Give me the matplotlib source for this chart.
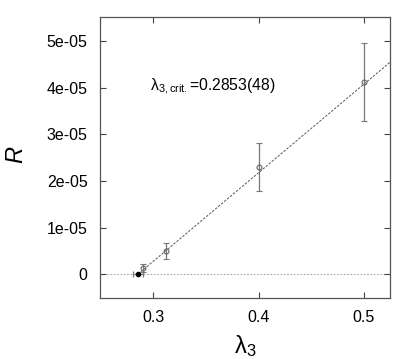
import matplotlib
matplotlib.use("Agg")
import matplotlib.pyplot as plt
import numpy as np

plt.rcParams['font.family'] = ['Liberation Sans', 'DejaVu Sans']
plt.rcParams['mathtext.fontset'] = 'custom'
plt.rcParams['mathtext.rm'] = 'Liberation Sans'
plt.rcParams['mathtext.it'] = 'Liberation Sans:italic'

# data
lam = [0.29, 0.3125, 0.4, 0.5]
R = [0.13e-5, 0.50e-5, 2.30e-5, 4.12e-5]
R_err = [0.08e-5, 0.18e-5, 0.52e-5, 0.83e-5]
lam_crit = 0.2853
lam_crit_err = 0.0048
fit_slope = 1.897e-4
xticks = [0.3, 0.4, 0.5]
yticks = [0, 1e-5, 2e-5, 3e-5, 4e-5, 5e-5]
ytick_labels = ['0', '1e-05', '2e-05', '3e-05', '4e-05', '5e-05']

fig = plt.figure(figsize=(4.15, 3.59), dpi=100)
ax = fig.add_axes([100/415, 1-298/359, 290/415, 281/359])

xmin, xmax = 0.2494, 0.5247
ymin, ymax = -0.508e-5, 5.51e-5

ax.axhline(0, color='#aaaaaa', lw=0.8, ls=(0, (1.5, 1.5)), zorder=1)
xf = np.array([lam_crit, xmax])
ax.plot(xf, fit_slope * (xf - lam_crit), color='#555555', lw=0.7,
        ls=(0, (2.5, 1.5)), zorder=2)
ax.errorbar(lam, R, yerr=R_err, fmt='o', ms=3.5, mfc='none', mec='#666666',
            mew=0.8, ecolor='#777777', elinewidth=0.9, capsize=2.0,
            capthick=0.9, zorder=3)
ax.errorbar([lam_crit], [0], xerr=[lam_crit_err], fmt='o', ms=3.0,
            color='black', ecolor='#777777', elinewidth=0.9, capsize=2.0,
            capthick=0.9, zorder=4)

ax.set_xlim(xmin, xmax)
ax.set_ylim(ymin, ymax)
ax.set_xticks(xticks)
ax.set_xticklabels([str(t) for t in xticks])
ax.set_yticks(yticks)
ax.set_yticklabels(ytick_labels)
ax.tick_params(direction='in', top=True, right=True, length=4, width=0.8,
               labelsize=11.5, pad=9, color='#444444')
for s in ax.spines.values():
    s.set_color('#555555')
    s.set_linewidth(0.9)

fig.text(150/415, 1-91/359, r'λ$_{3,\mathrm{crit.}}$=0.2853(48)',
         fontsize=11.3, ha='left', va='baseline')
fig.text(16/415, 1-155/359, 'R', rotation=90, fontsize=17, style='italic',
         ha='center', va='center')
fig.text(245/415, 1-346/359, r'λ$_3$', fontsize=17, ha='center', va='center')

fig.savefig('out.png', dpi=100)
